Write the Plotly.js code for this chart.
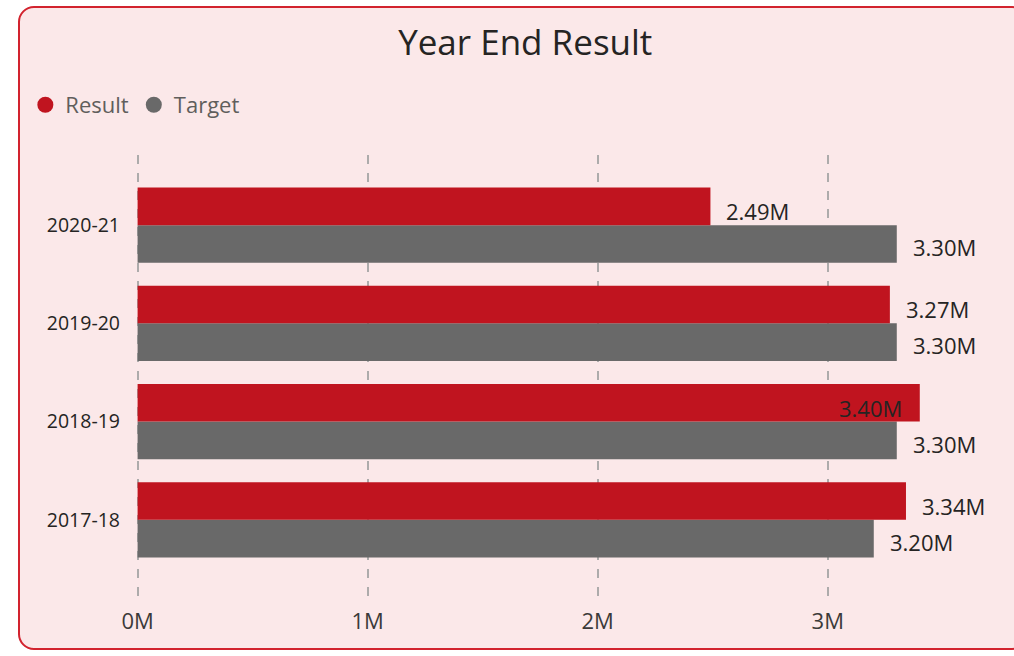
<!DOCTYPE html>
<html><head><meta charset="utf-8">
<script src="https://cdn.plot.ly/plotly-3.0.1.min.js"></script>
<style>
html,body{margin:0;padding:0;background:#fff;width:1014px;height:656px;overflow:hidden;}
#frame{position:absolute;left:18px;top:6px;width:1010px;height:644px;border:2px solid #D2232E;border-radius:16px;background:#FBE8E9;box-sizing:border-box;}
#chart{position:absolute;left:0;top:0;width:1014px;height:656px;}
</style></head>
<body>
<div id="frame"></div>
<div id="chart"></div>
<script>
const categories = ["2017-18", "2018-19", "2019-20", "2020-21"];
const resultValues = [3.34, 3.40, 3.27, 2.49];
const targetValues = [3.20, 3.30, 3.30, 3.30];
const xTickVals = [0, 1, 2, 3];
const xTickText = ["0M", "1M", "2M", "3M"];

const RED = "#C0141F", GRAY = "#696969", TXT = "#252423";
const FONT = "'Segoe UI', 'Open Sans', 'Noto Sans', sans-serif";
const fmt = v => v.toFixed(2) + "M";

const traces = [
  {type:"bar", orientation:"h", name:"Target", y:categories, x:targetValues,
   marker:{color:GRAY}, showlegend:false, hoverinfo:"skip"},
  {type:"bar", orientation:"h", name:"Result", y:categories, x:resultValues,
   marker:{color:RED}, showlegend:false, hoverinfo:"skip"},
  {type:"scatter", mode:"markers", name:"Result", x:[null], y:[null],
   marker:{color:RED, size:19, symbol:"circle"}},
  {type:"scatter", mode:"markers", name:"Target", x:[null], y:[null],
   marker:{color:GRAY, size:19, symbol:"circle"}}
];

const xMin = -0.02, xMax = 3.74;
const plotL = 133.4, plotR = 998.2;
const pxPer = (plotR - plotL) / (xMax - xMin);
const annotations = [];
categories.forEach((c, i) => {
  const r = resultValues[i];
  const labelEnd = plotL + (r - xMin) * pxPer + 14 + 66;
  const inside = labelEnd > 995; // label would not fit outside the plot
  annotations.push({x:r, y:c, xref:"x", yref:"y", text:fmt(r), showarrow:false,
    xanchor: inside ? "right" : "left", xshift: inside ? -16 : 14, yshift:14,
    font:{family:FONT, size:22, color:TXT}});
  const t = targetValues[i];
  annotations.push({x:t, y:c, xref:"x", yref:"y", text:fmt(t), showarrow:false,
    xanchor:"left", xshift:14, yshift:-22,
    font:{family:FONT, size:22, color:TXT}});
});

const layout = {
  width:1014, height:656,
  paper_bgcolor:"rgba(0,0,0,0)", plot_bgcolor:"rgba(0,0,0,0)",
  margin:{l:plotL, r:1014 - plotR, t:155, b:56},
  title:{text:"Year End Result", x:0.518, xanchor:"center", y:0.935, yanchor:"middle",
    font:{family:FONT, size:35, color:TXT}},
  barmode:"group", bargap:0.235, bargroupgap:0,
  showlegend:true,
  legend:{orientation:"h", xref:"container", yref:"container", x:0.025, xanchor:"left",
    y:0.84, yanchor:"middle",
    font:{family:FONT, size:22, color:"#605E5C"}, itemwidth:30, traceorder:"normal",
    bgcolor:"rgba(0,0,0,0)"},
  xaxis:{range:[xMin, xMax], tickvals:xTickVals, ticktext:xTickText,
    showgrid:true, gridcolor:"#ADABAB", gridwidth:2, griddash:"dash",
    zeroline:false, showline:false, ticks:"", ticklabelstandoff:6,
    tickfont:{family:FONT, size:22, color:"#3b3a39"}, fixedrange:true},
  yaxis:{type:"category", range:[-0.816, 3.714], showgrid:false, zeroline:false,
    showline:false, ticks:"", ticklabelstandoff:12,
    tickfont:{family:FONT, size:19.5, color:TXT}, fixedrange:true},
  annotations:annotations
};

Plotly.newPlot("chart", traces, layout, {displayModeBar:false, staticPlot:true});
</script>
</body></html>
